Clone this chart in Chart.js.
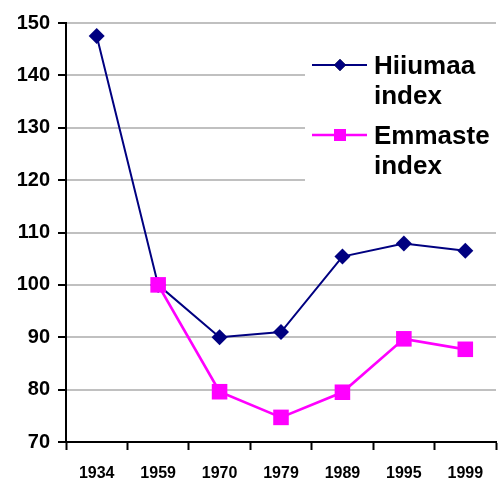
<!DOCTYPE html>
<html>
<head>
<meta charset="utf-8">
<script src="https://cdn.jsdelivr.net/npm/chart.js@4/dist/chart.umd.min.js"></script>
<style>
  html, body { margin: 0; padding: 0; background: #fff; }
  #wrap { width: 499px; height: 483px; }
</style>
</head>
<body>
<div id="wrap"><canvas id="indexChart"></canvas></div>
<script>
const years = ['1934', '1959', '1970', '1979', '1989', '1995', '1999'];
const hiiumaa = [147.5, 100, 90, 91, 105.4, 107.9, 106.5];
const emmaste = [null, 100, 79.6, 74.7, 79.5, 89.7, 87.7];
const seriesNames = ['Hiiumaa index', 'Emmaste index'];

// legend drawn by hand, sitting over the plot like the original
const boxLegend = {
  id: 'boxLegend',
  beforeDatasetsDraw(chart) {
    const ctx = chart.ctx;
    ctx.save();
    ctx.fillStyle = '#fff';
    ctx.fillRect(305, 44, 194, 148);
    ctx.restore();
  },
  afterDraw(chart) {
    const ctx = chart.ctx;
    const rows = [65, 135];
    ctx.save();
    chart.data.datasets.forEach((ds, i) => {
      const y = rows[i];
      ctx.strokeStyle = ds.borderColor;
      ctx.lineWidth = ds.borderWidth;
      ctx.beginPath();
      ctx.moveTo(312, y);
      ctx.lineTo(367, y);
      ctx.stroke();
      Chart.helpers.drawPoint(ctx, {
        pointStyle: ds.pointStyle,
        radius: i === 0 ? 6 : 8.5,
        borderWidth: 0
      }, 340, y);
      ctx.fillStyle = ds.pointBackgroundColor;
      ctx.fill();
      ctx.fillStyle = '#000';
      ctx.font = 'bold 26px "Liberation Sans", Arial, sans-serif';
      ctx.textBaseline = 'middle';
      ds.label.split(' ').forEach((w, k) => ctx.fillText(w, 374, y + 2 + k * 30));
    });
    ctx.restore();
  }
};

new Chart(document.getElementById('indexChart'), {
  type: 'line',
  data: {
    labels: years,
    datasets: [
      {
        label: seriesNames[0],
        data: hiiumaa,
        order: 1,
        borderColor: '#000080',
        backgroundColor: '#000080',
        pointBackgroundColor: '#000080',
        pointBorderWidth: 0,
        borderWidth: 2,
        pointStyle: 'rectRot',
        pointRadius: 8,
        pointHoverRadius: 8,
        tension: 0
      },
      {
        label: seriesNames[1],
        data: emmaste,
        order: 0,
        borderColor: '#ff00ff',
        backgroundColor: '#ff00ff',
        pointBackgroundColor: '#ff00ff',
        pointBorderWidth: 0,
        borderWidth: 2.7,
        pointStyle: 'rect',
        pointRadius: 11,
        pointHoverRadius: 11,
        tension: 0
      }
    ]
  },
  options: {
    responsive: true,
    maintainAspectRatio: false,
    animation: false,
    layout: { autoPadding: false, padding: { top: 23, right: 3, left: 0, bottom: 0 } },
    plugins: {
      legend: { display: false },
      tooltip: { enabled: false }
    },
    scales: {
      x: {
        offset: true,
        grid: {
          offset: true,
          drawOnChartArea: false,
          tickLength: 8,
          tickColor: '#000',
          tickWidth: 2
        },
        border: { color: '#000', width: 2 },
        ticks: {
          color: '#000',
          padding: 14,
          font: { family: '"Liberation Sans", Arial, sans-serif', size: 16, weight: 'bold' }
        },
        afterFit(scale) {
          scale.height = 41;
          scale.paddingLeft = 0;
          scale.paddingRight = 0;
        }
      },
      y: {
        min: 70,
        max: 150,
        ticks: {
          stepSize: 10,
          color: '#000',
          padding: 8,
          font: { family: '"Liberation Sans", Arial, sans-serif', size: 20, weight: 'bold' }
        },
        grid: {
          color: '#c0c0c0',
          lineWidth: 2,
          tickLength: 8,
          tickColor: '#000',
          tickWidth: 2
        },
        border: { color: '#000', width: 2 },
        afterFit(scale) { scale.width = 66; }
      }
    }
  },
  plugins: [boxLegend]
});
</script>
</body>
</html>
